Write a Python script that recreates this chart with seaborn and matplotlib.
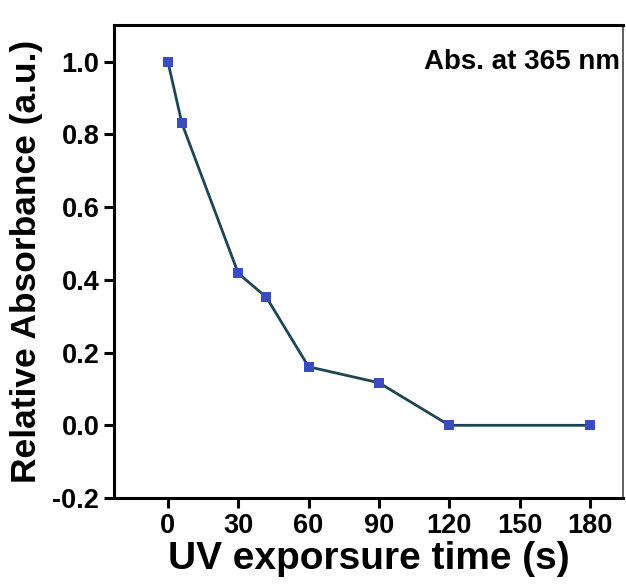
import matplotlib
matplotlib.use("Agg")
import matplotlib.pyplot as plt
import seaborn as sns
import pandas as pd

time_s = [0, 6, 30, 42, 60, 90, 120, 180]
rel_abs = [1.0, 0.83, 0.418, 0.352, 0.161, 0.117, 0.0, 0.0]
xticks = [0, 30, 60, 90, 120, 150, 180]
yticks = [-0.2, 0.0, 0.2, 0.4, 0.6, 0.8, 1.0]

sns.set_theme(style="ticks")
plt.rcParams['font.family'] = ['Liberation Sans', 'DejaVu Sans']
plt.rcParams['font.weight'] = 'bold'
plt.rcParams['text.color'] = 'black'
plt.rcParams['axes.labelcolor'] = 'black'

df = pd.DataFrame({"t": time_s, "a": rel_abs})

fig = plt.figure(figsize=(6.26, 5.88), dpi=100)
ax = fig.add_axes([0.182, 0.153, 0.813, 0.804])
sns.lineplot(data=df, x="t", y="a", ax=ax, color="#1d4654", linewidth=2.0,
             marker="s", markersize=7.5, markerfacecolor="#3b4cc0",
             markeredgecolor="#3b4cc0", markeredgewidth=0)

ax.set_xlim(-23, 194)
ax.set_ylim(-0.2, 1.1)
ax.set_xticks(xticks)
ax.set_yticks(yticks)
ax.set_yticklabels([f"{v:.1f}" for v in yticks])
ax.tick_params(axis='both', direction='out', length=7, width=2.2, labelsize=19.5,
               colors='black', top=False, right=False)
ax.tick_params(axis='x', pad=4)
for lbl in ax.get_xticklabels() + ax.get_yticklabels():
    lbl.set_fontweight('bold')
for s in ['left', 'bottom', 'top']:
    ax.spines[s].set_linewidth(2.2)
    ax.spines[s].set_color('black')
ax.spines['right'].set_linewidth(1.2)
ax.spines['right'].set_color('#444444')

ax.set_xlabel("UV exporsure time (s)", fontsize=28, fontweight='bold', labelpad=1)
ax.set_ylabel("Relative Absorbance (a.u.)", fontsize=25.5, fontweight='bold', labelpad=7)
ax.text(0.995, 0.922, "Abs. at 365 nm", transform=ax.transAxes, ha='right', va='center',
        fontsize=20, fontweight='bold')

fig.savefig("out.png", dpi=100)
